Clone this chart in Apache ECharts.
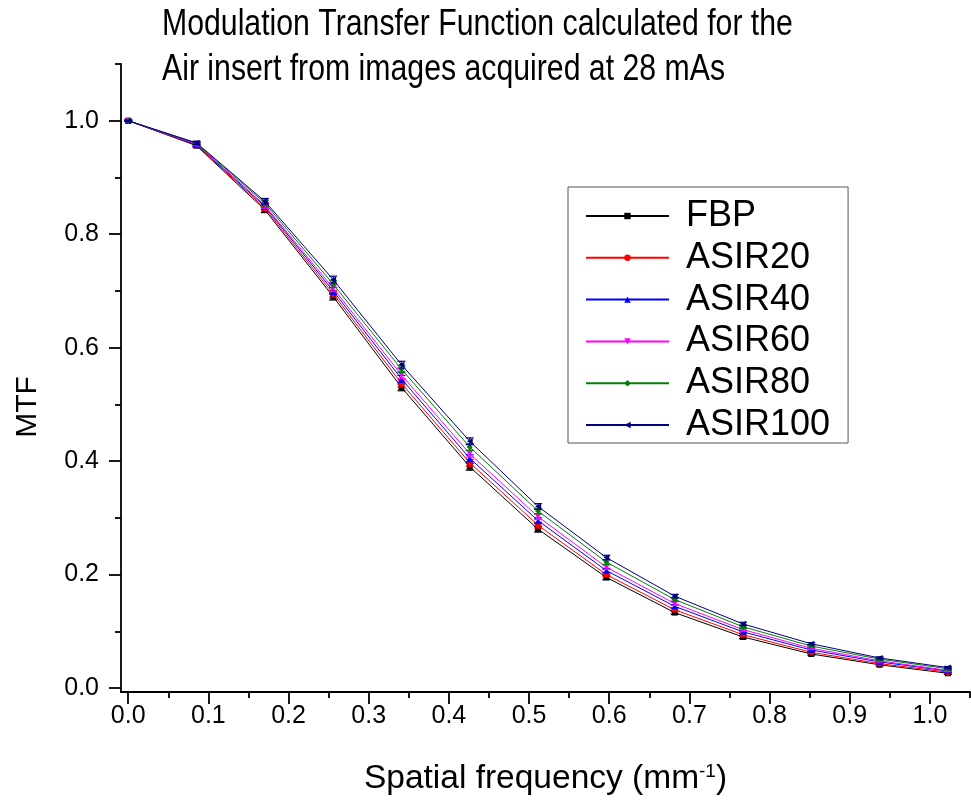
<!DOCTYPE html>
<html>
<head>
<meta charset="utf-8">
<script src="https://cdn.jsdelivr.net/npm/echarts@6/dist/echarts.min.js"></script>
<style>
html,body{margin:0;padding:0;background:#fff;}
#chart{width:971px;height:806px;}
</style>
</head>
<body>
<div id="chart"></div>
<script>
// Spatial frequency (mm^-1)
const freq = [0, 0.0852, 0.1704, 0.2556, 0.3408, 0.426, 0.5112, 0.5964, 0.6816, 0.7668, 0.852, 0.9372, 1.0224];
const seriesNames = ['FBP', 'ASIR20', 'ASIR40', 'ASIR60', 'ASIR80', 'ASIR100'];
const FBP     = [1.0, 0.956, 0.843, 0.690, 0.530, 0.390, 0.280, 0.195, 0.133, 0.090, 0.060, 0.041, 0.026];
const ASIR20  = [1.0, 0.957, 0.846, 0.695, 0.537, 0.397, 0.287, 0.200, 0.138, 0.094, 0.063, 0.043, 0.028];
const ASIR40  = [1.0, 0.958, 0.849, 0.700, 0.545, 0.405, 0.295, 0.207, 0.144, 0.099, 0.067, 0.046, 0.030];
const ASIR60  = [1.0, 0.959, 0.851, 0.705, 0.552, 0.413, 0.302, 0.213, 0.149, 0.103, 0.070, 0.048, 0.031];
const ASIR80  = [1.0, 0.960, 0.855, 0.712, 0.562, 0.425, 0.312, 0.222, 0.156, 0.108, 0.074, 0.051, 0.034];
const ASIR100 = [1.0, 0.961, 0.858, 0.720, 0.570, 0.435, 0.320, 0.230, 0.162, 0.113, 0.078, 0.053, 0.036];
// Error (± standard deviation) at each frequency
const errors  = [0.001, 0.003, 0.005, 0.006, 0.006, 0.006, 0.005, 0.004, 0.003, 0.003, 0.002, 0.002, 0.002];
// Tick labels / tick positions
const xLabels = [0, 0.1, 0.2, 0.3, 0.4, 0.5, 0.6, 0.7, 0.8, 0.9, 1.0];
const xMinor  = [0.05, 0.15, 0.25, 0.35, 0.45, 0.55, 0.65, 0.75, 0.85, 0.95, 1.05];
const yLabels = [0, 0.2, 0.4, 0.6, 0.8, 1.0];
const yMinor  = [0.1, 0.3, 0.5, 0.7, 0.9, 1.1];
const titleLines = ['Modulation Transfer Function calculated for the', 'Air insert from images acquired at 28 mAs'];

const allValues = [FBP, ASIR20, ASIR40, ASIR60, ASIR80, ASIR100];
const colors = ['#000000', '#ff0000', '#0000ff', '#ff00ff', '#008000', '#000080'];
const symbols = ['rect', 'circle', 'triangle', 'triangle', 'diamond', 'triangle'];
const rotates = [0, 0, 0, 180, 0, 90];

const XMIN = -0.009, XMAX = 1.05, YMIN = -0.007, YMAX = 1.1;
const FONT = '"Liberation Sans", Arial, sans-serif';

const chart = echarts.init(document.getElementById('chart'));

const axisLineStyle = {color: '#000', width: 1.8};

const series = [];
seriesNames.forEach((name, i) => {
  series.push({
    name: name,
    type: 'line',
    data: freq.map((f, k) => [f, allValues[i][k]]),
    symbol: symbols[i],
    symbolRotate: rotates[i],
    symbolSize: 6,
    showAllSymbol: true,
    lineStyle: {color: colors[i], width: 1},
    itemStyle: {color: colors[i]},
    z: 3 + i,
    animation: false
  });
});
seriesNames.forEach((name, i) => {
  const col = colors[i];
  series.push({
    name: name + ' err',
    type: 'custom',
    data: freq.map((f, k) => [f, allValues[i][k] - errors[k], allValues[i][k] + errors[k]]),
    renderItem: function (params, api) {
      const x = api.value(0);
      const p1 = api.coord([x, api.value(2)]);
      const p2 = api.coord([x, api.value(1)]);
      const w = 4;
      const style = {stroke: col, lineWidth: 1.2};
      return {type: 'group', children: [
        {type: 'line', shape: {x1: p1[0], y1: p1[1], x2: p2[0], y2: p2[1]}, style: style},
        {type: 'line', shape: {x1: p1[0] - w, y1: p1[1], x2: p1[0] + w, y2: p1[1]}, style: style},
        {type: 'line', shape: {x1: p2[0] - w, y1: p2[1], x2: p2[0] + w, y2: p2[1]}, style: style}
      ]};
    },
    z: 3 + i,
    animation: false
  });
});

chart.setOption({
  backgroundColor: '#fff',
  animation: false,
  textStyle: {fontFamily: FONT},
  graphic: titleLines.map((t, i) => ({
    type: 'text',
    x: 162, y: 25 + i * 45,
    scaleX: 0.84,
    style: {text: t, fill: '#000', font: '36px "Liberation Sans", Arial, sans-serif', textVerticalAlign: 'middle', textAlign: 'left'}
  })),
  legend: {
    data: seriesNames,
    orient: 'vertical',
    left: 568, top: 187,
    padding: [11, 18, 0, 17],
    itemGap: 5.8,
    itemWidth: 83,
    itemHeight: 8,
    borderColor: '#555',
    borderWidth: 1,
    textStyle: {fontFamily: FONT, fontSize: 36, color: '#000', lineHeight: 34, padding: [0, 0, 0, 12]}
  },
  grid: {left: 121, right: 1, top: 64, bottom: 114, containLabel: false},
  xAxis: [
    {
      type: 'value', min: XMIN, max: XMAX, position: 'bottom',
      name: 'Spatial frequency (mm{sup|-1})',
      nameLocation: 'middle', nameGap: 70,
      nameTextStyle: {fontFamily: FONT, fontSize: 33.5, color: '#000',
        rich: {sup: {fontSize: 19, fontFamily: FONT, color: '#000', padding: [0, 0, 14, 0]}}},
      axisLine: {show: true, onZero: false, lineStyle: axisLineStyle},
      axisTick: {show: true, inside: false, length: 12, lineStyle: axisLineStyle, customValues: xLabels},
      axisLabel: {show: true, customValues: xLabels, margin: 12, fontSize: 25, color: '#000', fontFamily: FONT,
        formatter: v => v.toFixed(1)},
      splitLine: {show: false}
    },
    {
      type: 'value', min: XMIN, max: XMAX, position: 'bottom',
      axisLine: {show: false, onZero: false},
      axisTick: {show: true, inside: false, length: 6, lineStyle: axisLineStyle, customValues: xMinor},
      axisLabel: {show: false},
      splitLine: {show: false}
    }
  ],
  yAxis: [
    {
      type: 'value', min: YMIN, max: YMAX, position: 'left',
      name: 'MTF', nameLocation: 'middle', nameGap: 78, nameRotate: 90,
      nameTextStyle: {fontFamily: FONT, fontSize: 30, color: '#000', padding: [0, 58, 0, 0]},
      axisLine: {show: true, onZero: false, lineStyle: axisLineStyle},
      axisTick: {show: true, inside: false, length: 12, lineStyle: axisLineStyle, customValues: yLabels},
      axisLabel: {show: true, customValues: yLabels, margin: 22, fontSize: 25, color: '#000', fontFamily: FONT,
        formatter: v => v.toFixed(1)},
      splitLine: {show: false}
    },
    {
      type: 'value', min: YMIN, max: YMAX, position: 'left',
      axisLine: {show: false, onZero: false},
      axisTick: {show: true, inside: false, length: 6, lineStyle: axisLineStyle, customValues: yMinor},
      axisLabel: {show: false},
      splitLine: {show: false}
    }
  ],
  series: series
});
</script>
</body>
</html>
